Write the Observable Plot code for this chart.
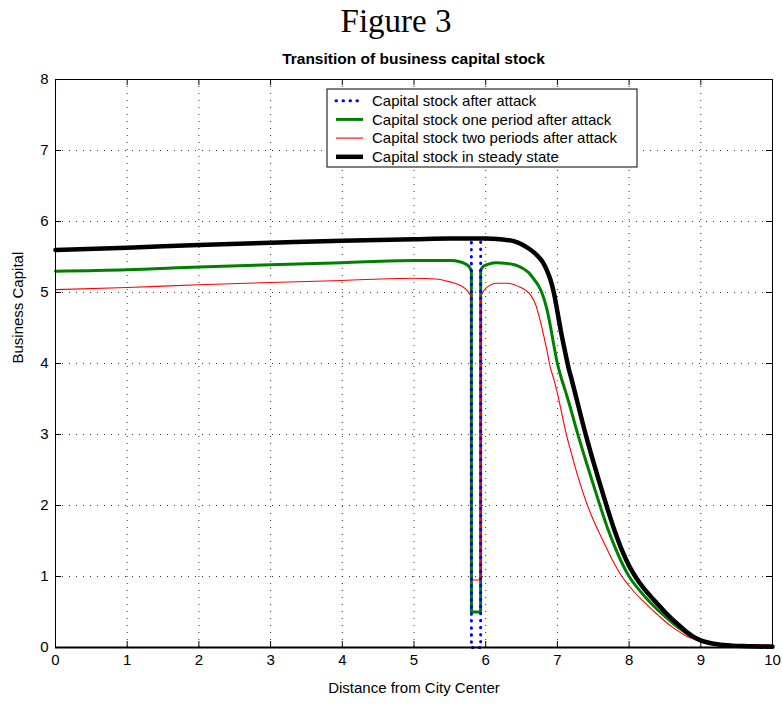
<!DOCTYPE html>
<html><head><meta charset="utf-8">
<script src="https://cdn.jsdelivr.net/npm/d3@7"></script>
<script src="https://cdn.jsdelivr.net/npm/@observablehq/plot@0.6"></script>
<style>
body{margin:0;background:#fff;width:782px;height:705px;overflow:hidden;font-family:"Liberation Sans",Arial,sans-serif}
#fig{height:40px;line-height:42px;text-align:center;font-family:"Liberation Serif",serif;font-size:33px;padding-left:10px}
#ttl{height:32px;line-height:38px;text-align:center;font-weight:bold;font-size:15.5px;padding-left:45px}
#chart svg{display:block}
</style></head><body>
<div id="fig">Figure 3</div>
<div id="ttl">Transition of business capital stock</div>
<div id="chart"></div>
<script>
// ---- data ----
const xTicks = [0,1,2,3,4,5,6,7,8,9,10];
const yTicks = [0,1,2,3,4,5,6,7,8];
const xLabel = "Distance from City Center";
const yLabel = "Business Capital";
const legendLabels = [
  "Capital stock after attack",
  "Capital stock one period after attack",
  "Capital stock two periods after attack",
  "Capital stock in steady state"
];

// steady state (black)
const steadyX = [0,1,2,3,4,5,5.5,6,6.2,6.4,6.5,6.6,6.7,6.8,6.85,6.9,6.95,7,7.05,7.1,7.16,7.2,7.28,7.4,7.5,7.6,7.7,7.8,7.9,8,8.1,8.2,8.3,8.4,8.5,8.6,8.7,8.8,8.9,9,9.1,9.2,9.4,9.6,10];
const steadyY = [5.60,5.63,5.67,5.70,5.73,5.75,5.76,5.76,5.75,5.72,5.68,5.62,5.54,5.42,5.32,5.19,5.0,4.73,4.45,4.2,3.92,3.77,3.45,2.98,2.62,2.28,1.95,1.64,1.37,1.15,0.98,0.84,0.72,0.61,0.50,0.40,0.31,0.22,0.15,0.10,0.07,0.05,0.03,0.02,0.01];

// after attack (blue dotted)
const attackX = [0,1,2,3,4,5,5.5,5.8,5.801,5.929,5.93,6,6.2,6.4,6.5,6.6,6.7,6.8,6.85,6.9,6.95,7,7.05,7.1,7.16,7.2,7.28,7.4,7.5,7.6,7.7,7.8,7.9,8,8.1,8.2,8.3,8.4,8.5,8.6,8.7,8.8,8.9,9,9.1,9.2,9.4,9.6,10];
const attackY = [5.60,5.63,5.67,5.70,5.73,5.75,5.76,5.76,0,0,5.76,5.76,5.75,5.72,5.68,5.62,5.54,5.42,5.32,5.19,5.0,4.73,4.45,4.2,3.92,3.77,3.45,2.98,2.62,2.28,1.95,1.64,1.37,1.15,0.98,0.84,0.72,0.61,0.50,0.40,0.31,0.22,0.15,0.10,0.07,0.05,0.03,0.02,0.01];

// one period after attack (green)
const oneX = [0,1,2,3,4,5,5.5,5.65,5.72,5.77,5.8,5.801,5.929,5.93,5.97,6.04,6.15,6.3,6.4,6.5,6.6,6.67,6.74,6.79,6.85,6.9,6.95,7,7.05,7.1,7.16,7.28,7.4,7.5,7.6,7.7,7.8,7.9,8,8.1,8.2,8.3,8.4,8.5,8.6,8.7,8.8,8.9,9,9.2,9.4,9.6,10];
const oneY = [5.30,5.32,5.36,5.39,5.42,5.45,5.45,5.43,5.40,5.36,5.30,0.50,0.50,5.31,5.37,5.40,5.42,5.41,5.39,5.35,5.28,5.19,5.09,4.98,4.78,4.54,4.26,4.0,3.81,3.65,3.45,3.02,2.62,2.30,1.98,1.68,1.42,1.19,1.0,0.86,0.74,0.63,0.53,0.44,0.35,0.27,0.20,0.14,0.09,0.05,0.03,0.02,0.015];

// two periods after attack (red)
const twoX = [0,1,2,3,4,5,5.3,5.5,5.6,5.72,5.77,5.8,5.801,5.929,5.93,5.97,6.04,6.15,6.3,6.4,6.49,6.56,6.63,6.7,6.74,6.81,6.86,6.9,6.95,7,7.05,7.12,7.2,7.3,7.42,7.5,7.6,7.7,7.8,7.9,8,8.1,8.2,8.3,8.4,8.5,8.6,8.7,8.8,8.9,9,9.2,9.4,9.6,10];
const twoY = [5.04,5.07,5.11,5.14,5.17,5.20,5.19,5.15,5.12,5.05,4.99,4.93,0.95,0.95,4.93,5.02,5.09,5.13,5.13,5.11,5.07,5.03,4.96,4.82,4.68,4.39,4.15,3.95,3.78,3.58,3.35,3.02,2.72,2.36,2.0,1.80,1.58,1.37,1.17,1.0,0.87,0.75,0.65,0.55,0.46,0.37,0.29,0.22,0.16,0.12,0.09,0.06,0.045,0.04,0.035];

const rows = (xs, ys) => xs.map((x, i) => ({x, y: ys[i]}));

const W = 782, H = 633, mT = 7, mB = 58, mL = 55, mR = 10;
const innerW = W - mL - mR, innerH = H - mT - mB;
const tick = 6;
const font = '"Liberation Sans", Arial, Helvetica, sans-serif';
const curve = "monotone-x";

const chart = Plot.plot({
  width: W, height: H,
  marginTop: mT, marginBottom: mB, marginLeft: mL, marginRight: mR,
  style: {fontFamily: font, fontSize: "15px", background: "white", overflow: "visible"},
  x: {domain: [0, 10]},
  y: {domain: [0, 8]},
  marks: [
    Plot.gridX(xTicks, {stroke: "#000", strokeOpacity: 0.8, strokeDasharray: "1,6"}),
    Plot.gridY(yTicks, {stroke: "#000", strokeOpacity: 0.8, strokeDasharray: "1,6"}),
    Plot.line(rows(oneX, oneY), {x: "x", y: "y", stroke: "#008000", strokeWidth: 3, curve}),
    Plot.line(rows(twoX, twoY), {x: "x", y: "y", stroke: "#ff0000", strokeWidth: 1.1, curve}),
    Plot.line(rows(attackX, attackY), {x: "x", y: "y", stroke: "#0000ff", strokeWidth: 3, strokeDasharray: "0.5,6.5", strokeLinecap: "round", curve}),
    Plot.line(rows(steadyX, steadyY), {x: "x", y: "y", stroke: "#000", strokeWidth: 4.5, curve}),
    Plot.ruleX(xTicks, {insetTop: innerH - tick, stroke: "#000"}),
    Plot.ruleX(xTicks, {insetBottom: innerH - tick, stroke: "#000"}),
    Plot.ruleY(yTicks, {insetRight: innerW - tick, stroke: "#000"}),
    Plot.ruleY(yTicks, {insetLeft: innerW - tick, stroke: "#000"}),
    Plot.frame({stroke: "#000"}),
    Plot.ruleY([0], {stroke: "#000", strokeWidth: 2}),
    Plot.axisX(xTicks, {tickSize: 0, tickPadding: 7, fontSize: 15, label: null, tickFormat: d3.format("d")}),
    Plot.axisY(yTicks, {tickSize: 0, tickPadding: 7, fontSize: 15, label: null, tickFormat: d3.format("d")}),
    Plot.text([xLabel], {text: d => d, frameAnchor: "bottom", dy: 45, fontSize: 15}),
    Plot.text([yLabel], {text: d => d, frameAnchor: "left", dx: -37, rotate: -90, fontSize: 15})
  ]
});
document.getElementById("chart").appendChild(chart);

// legend box (pixel layout inside the plot area)
const svg = d3.select(chart);
const lg = svg.append("g").attr("font-family", font).attr("font-size", 15).attr("text-anchor", "start");
const bx = 327, by = 17, bw = 310, bh = 78, rowY0 = 28.7, rowDy = 18.7;
lg.append("rect").attr("x", bx).attr("y", by).attr("width", bw).attr("height", bh)
  .attr("fill", "white").attr("stroke", "black").attr("stroke-width", 1);
const styles = [
  {stroke: "#0000ff", w: 3, dash: "0.5,6.5", cap: "round"},
  {stroke: "#008000", w: 3},
  {stroke: "#ff0000", w: 1.1},
  {stroke: "#000", w: 4.5}
];
legendLabels.forEach((t, i) => {
  const y = rowY0 + i * rowDy;
  const s = styles[i];
  const l = lg.append("line").attr("x1", 336).attr("x2", 363).attr("y1", y).attr("y2", y)
    .attr("stroke", s.stroke).attr("stroke-width", s.w);
  if (s.dash) l.attr("stroke-dasharray", s.dash).attr("stroke-linecap", s.cap);
  lg.append("text").attr("x", 372).attr("y", y).attr("dy", "0.35em").attr("text-anchor", "start").text(t);
});
</script>
</body></html>
